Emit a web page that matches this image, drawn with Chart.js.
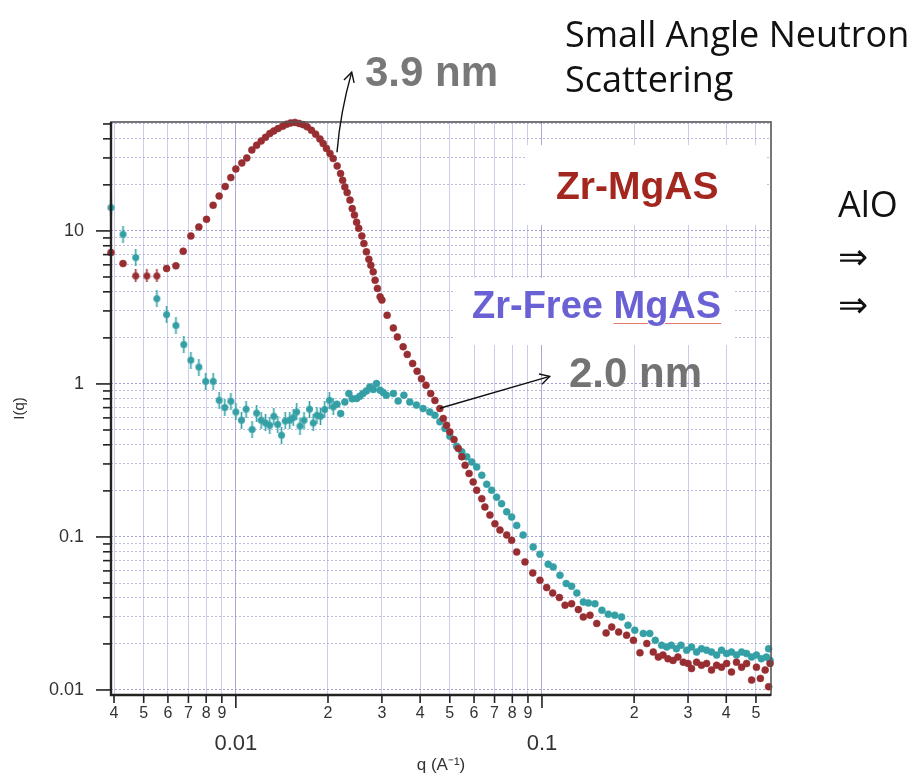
<!DOCTYPE html>
<html>
<head>
<meta charset="utf-8">
<script src="https://cdn.jsdelivr.net/npm/chart.js@4.4.1/dist/chart.umd.min.js"></script>
<style>
  html, body { margin: 0; padding: 0; background: #fff; }
  #wrap { position: relative; width: 910px; height: 780px; overflow: hidden; }
  #sans { position: absolute; left: 0; top: 0; }
  .slide { position: absolute; font-family: 'Open Sans', Lato, sans-serif; font-size: 36px; line-height: 1; color: #111; white-space: nowrap; }
  .tag { position: absolute; font-family: 'Liberation Sans', Arial, sans-serif; font-weight: bold; line-height: 1; white-space: nowrap; }
</style>
</head>
<body>
<div id="wrap">
  <canvas id="sans" width="910" height="780"></canvas>
  <div class="slide" style="left:565px; top:16px;">Small Angle Neutron</div>
  <div class="slide" style="left:565px; top:61px;">Scattering</div>
  <div class="slide" style="left:838px; top:186px;">AlO</div>
  <div class="slide" style="left:838px; top:238px;">⇒</div>
  <div class="slide" style="left:838px; top:286px;">⇒</div>
  <div class="tag" style="left:365px; top:51px; font-size:42px; color:#787878;">3.9 nm</div>
  <div class="tag" style="left:569px; top:352px; font-size:42px; color:#737373;">2.0 nm</div>
  <div class="tag" style="left:556px; top:166px; font-size:39px; color:#a3271f;">Zr-MgAS</div>
  <div class="tag" style="left:472px; top:286px; font-size:38px; color:#6a62d4;">Zr-Free <span style="text-decoration: underline; text-decoration-color: #e07a6a; text-decoration-thickness: 1px; text-underline-offset: 5px;">MgAS</span></div>
</div>
<script>
// Zr-MgAS (dark red)
const zrQ = [0.00391, 0.00428, 0.00471, 0.00512, 0.00552, 0.00594, 0.00637, 0.00673, 0.00713, 0.00757,
  0.00802, 0.00843, 0.00882, 0.00923, 0.00963, 0.0100, 0.01046, 0.01086, 0.01128, 0.01169,
  0.0121, 0.0125, 0.01291, 0.0133, 0.01374, 0.01422, 0.01465, 0.0151, 0.0156, 0.0161,
  0.0166, 0.0171, 0.01766, 0.01823, 0.01882, 0.01929, 0.01977, 0.0203, 0.0208, 0.02143,
  0.02198, 0.02233, 0.0227, 0.0231, 0.0236, 0.0240, 0.0244, 0.0248, 0.0252, 0.0258,
  0.0262, 0.0267, 0.0272, 0.0276, 0.0281, 0.0285, 0.0290, 0.0296, 0.0300, 0.0312,
  0.0327, 0.0337, 0.0352, 0.0363, 0.0378, 0.0391, 0.0404, 0.0418, 0.0433, 0.0447,
  0.0464, 0.0476, 0.0488, 0.0500, 0.0516, 0.0533, 0.0547, 0.0561, 0.0578, 0.0596,
  0.0612, 0.0636, 0.0651, 0.0676, 0.0702, 0.0729, 0.0767, 0.0796, 0.0827, 0.0880,
  0.0933, 0.0985, 0.1036, 0.1084, 0.114, 0.119, 0.125, 0.1315, 0.1365, 0.1435,
  0.151, 0.162, 0.169, 0.178, 0.189, 0.199, 0.209, 0.220, 0.231, 0.240,
  0.2485, 0.258, 0.268, 0.278, 0.2895, 0.300, 0.308, 0.320, 0.332, 0.345,
  0.358, 0.372, 0.386, 0.401, 0.416, 0.432, 0.449, 0.466, 0.484, 0.502,
  0.517, 0.536, 0.550, 0.556];
const zrI = [7.22, 6.12, 5.08, 5.08, 5.08, 5.68, 5.91, 7.37, 9.27, 10.6,
  11.9, 14.7, 16.9, 19.5, 22.3, 25.4, 27.8, 30.0, 33.8, 36.3,
  38.7, 40.9, 43.3, 45.0, 46.7, 48.3, 49.8, 50.8, 51.2, 50.4,
  49.5, 47.9, 45.5, 42.9, 39.9, 37.2, 34.6, 32.1, 29.7, 26.6,
  23.7, 21.4, 19.4, 17.8, 15.9, 14.0, 12.7, 11.4, 10.4, 9.27,
  8.27, 7.30, 6.53, 5.97, 5.40, 4.76, 4.21, 3.71, 3.53, 2.81,
  2.32, 2.03, 1.75, 1.56, 1.36, 1.21, 1.08, 0.98, 0.865, 0.78,
  0.69, 0.594, 0.537, 0.486, 0.433, 0.379, 0.334, 0.294, 0.260, 0.229,
  0.202, 0.178, 0.157, 0.139, 0.122, 0.111, 0.103, 0.0951, 0.0798, 0.0687,
  0.0582, 0.0521, 0.0467, 0.0430, 0.0402, 0.0358, 0.0366, 0.0335, 0.0300, 0.0308,
  0.0272, 0.0236, 0.0258, 0.0239, 0.0228, 0.0211, 0.0175, 0.0201, 0.0177, 0.0164,
  0.0169, 0.0160, 0.0156, 0.0164, 0.0152, 0.0149, 0.0138, 0.0152, 0.0145, 0.0149,
  0.0135, 0.0145, 0.0141, 0.0149, 0.0131, 0.0152, 0.0141, 0.0149, 0.0116, 0.0141,
  0.0119, 0.0135, 0.0105, 0.0149];

// Zr-Free MgAS (teal)
const freeQ = [0.00391, 0.00428, 0.00471, 0.00552, 0.00594, 0.00637, 0.00676, 0.00713, 0.00757, 0.00797,
  0.00843, 0.00882, 0.0092, 0.00963, 0.0100, 0.01043, 0.0108, 0.0113, 0.01169, 0.0121,
  0.0125, 0.0129, 0.0133, 0.0137, 0.0141, 0.0145, 0.0150, 0.0154, 0.0158, 0.0162,
  0.0167, 0.0174, 0.0179, 0.0184, 0.0189, 0.0195, 0.0202, 0.0208, 0.0214, 0.0220,
  0.0227, 0.0234, 0.0240, 0.0248, 0.0254, 0.0260, 0.0267, 0.0274, 0.0281, 0.0288,
  0.0296, 0.0303, 0.0310, 0.0327, 0.0339, 0.0354, 0.0370, 0.0389, 0.0409, 0.0430,
  0.0447, 0.0464, 0.0482, 0.0500, 0.0526, 0.0547, 0.0568, 0.0590, 0.0612, 0.0636,
  0.0660, 0.0685, 0.0711, 0.0738, 0.0767, 0.0796, 0.0827, 0.0868, 0.0936, 0.0985,
  0.1048, 0.1088, 0.1145, 0.120, 0.125, 0.130, 0.1365, 0.1418, 0.149, 0.157,
  0.1647, 0.173, 0.182, 0.191, 0.201, 0.2143, 0.225, 0.2345, 0.246, 0.2555,
  0.2645, 0.275, 0.2845, 0.297, 0.308, 0.320, 0.332, 0.345, 0.358, 0.372,
  0.386, 0.401, 0.416, 0.432, 0.449, 0.466, 0.484, 0.502, 0.521, 0.541,
  0.550, 0.556];
const freeI = [14.2, 9.51, 6.70, 3.61, 2.84, 2.41, 1.81, 1.43, 1.29, 1.04,
  1.04, 0.782, 0.701, 0.770, 0.656, 0.579, 0.684, 0.504, 0.645, 0.579,
  0.556, 0.537, 0.615, 0.544, 0.462, 0.573, 0.579, 0.602, 0.656, 0.530,
  0.579, 0.684, 0.556, 0.624, 0.615, 0.681, 0.782, 0.708, 0.737, 0.640,
  0.762, 0.865, 0.80, 0.803, 0.83, 0.865, 0.90, 0.955, 0.92, 1.006,
  0.910, 0.88, 0.844, 0.865, 0.774, 0.844, 0.762, 0.727, 0.69, 0.656,
  0.624, 0.565, 0.512, 0.455, 0.392, 0.360, 0.334, 0.309, 0.287, 0.253,
  0.221, 0.202, 0.182, 0.165, 0.146, 0.135, 0.119, 0.103, 0.0861, 0.0771,
  0.0664, 0.0637, 0.0562, 0.0496, 0.0476, 0.0430, 0.0376, 0.0370, 0.0366, 0.0332,
  0.0313, 0.0308, 0.0300, 0.0265, 0.0246, 0.0234, 0.0234, 0.0211, 0.0196, 0.0191,
  0.0196, 0.0186, 0.0196, 0.0182, 0.0191, 0.0177, 0.0186, 0.0182, 0.0177, 0.0169,
  0.0182, 0.0173, 0.0177, 0.0169, 0.0177, 0.0173, 0.0164, 0.0169, 0.0160, 0.0164,
  0.0186, 0.0156];

// axis ticks and labels
const xTicks = [0.004, 0.005, 0.006, 0.007, 0.008, 0.009, 0.01, 0.02, 0.03, 0.04, 0.05, 0.06, 0.07, 0.08, 0.09,
  0.1, 0.2, 0.3, 0.4, 0.5];
const xTickLabels = ['4', '5', '6', '7', '8', '9', '0.01', '2', '3', '4', '5', '6', '7', '8', '9',
  '0.1', '2', '3', '4', '5'];
const xMajor = [0.01, 0.1];
const yTicks = [0.01, 0.02, 0.03, 0.04, 0.05, 0.06, 0.07, 0.08, 0.09,
  0.1, 0.2, 0.3, 0.4, 0.5, 0.6, 0.7, 0.8, 0.9,
  1, 2, 3, 4, 5, 6, 7, 8, 9,
  10, 20, 30, 40, 50];
const yMajor = [0.01, 0.1, 1, 10];
const yMajorLabels = ['0.01', '0.1', '1', '10'];

const RED = 'rgb(152, 46, 50)';
const TEAL = 'rgb(52, 160, 166)';
const AXIS_FONT = "'Liberation Sans Narrow', 'Liberation Sans', sans-serif";

// point with a small vertical error bar, used at low q
function errPoint(color, h) {
  const c = document.createElement('canvas');
  c.width = 9; c.height = h;
  const g = c.getContext('2d');
  g.strokeStyle = color; g.lineWidth = 1.6;
  g.beginPath(); g.moveTo(4.5, 0); g.lineTo(4.5, h); g.stroke();
  g.fillStyle = color;
  g.beginPath(); g.arc(4.5, h / 2, 3.5, 0, Math.PI * 2); g.fill();
  return c;
}
const tealErr = errPoint(TEAL, 17);
const redErr = errPoint(RED, 13);

function toPoints(q, v) {
  return q.map((x, i) => ({x: x, y: v[i]}));
}

const ySig = (v) => yMajor.some(m => Math.abs(m - v) / m < 1e-6);

const framePlugin = {
  id: 'frame',
  beforeDatasetsDraw(chart) {
    const ctx = chart.ctx;
    ctx.save();
    ctx.fillStyle = '#fff';
    ctx.fillRect(527, 145, 238, 80);   // box behind Zr-MgAS
    ctx.fillRect(455, 278, 280, 67);   // box behind Zr-Free MgAS
    ctx.restore();
  },
  afterDraw(chart) {
    const ctx = chart.ctx;
    const a = chart.chartArea;
    const xs = chart.scales.x, ys = chart.scales.y;
    ctx.save();
    // frame
    ctx.strokeStyle = '#555';
    ctx.lineWidth = 1.6;
    ctx.strokeRect(a.left, a.top, a.right - a.left, a.bottom - a.top);
    ctx.strokeStyle = '#222';
    ctx.lineWidth = 2.4;
    ctx.beginPath();
    ctx.moveTo(a.left, a.top); ctx.lineTo(a.left, a.bottom); ctx.lineTo(a.right, a.bottom);
    ctx.stroke();
    // tick marks
    ctx.lineWidth = 1.6;
    xTicks.forEach(v => {
      const px = xs.getPixelForValue(v);
      const len = xMajor.includes(v) ? 13 : 8;
      ctx.beginPath(); ctx.moveTo(px, a.bottom); ctx.lineTo(px, a.bottom + len); ctx.stroke();
    });
    yTicks.forEach(v => {
      const py = ys.getPixelForValue(v);
      const len = ySig(v) ? 15 : 8;
      ctx.beginPath(); ctx.moveTo(a.left, py); ctx.lineTo(a.left - len, py); ctx.stroke();
    });
    // arrows to the peaks
    ctx.strokeStyle = '#111';
    ctx.lineWidth = 1.4;
    const arrow = (q1, i1, q2, i2, bend) => {
      const x1 = xs.getPixelForValue(q1), y1 = ys.getPixelForValue(i1);
      const x2 = xs.getPixelForValue(q2), y2 = ys.getPixelForValue(i2);
      const mx = (x1 + x2) / 2 + bend, my = (y1 + y2) / 2;
      ctx.beginPath(); ctx.moveTo(x1, y1); ctx.quadraticCurveTo(mx, my, x2, y2); ctx.stroke();
      const ang = Math.atan2(y2 - my, x2 - mx), h = 11;
      ctx.beginPath();
      ctx.moveTo(x2 - h * Math.cos(ang - 0.5), y2 - h * Math.sin(ang - 0.5));
      ctx.lineTo(x2, y2);
      ctx.lineTo(x2 - h * Math.cos(ang + 0.5), y2 - h * Math.sin(ang + 0.5));
      ctx.stroke();
    };
    arrow(0.0214, 32.7, 0.0239, 109, -4);
    arrow(0.0464, 0.694, 0.106, 1.12, 0);
    ctx.restore();
  }
};

new Chart(document.getElementById('sans'), {
  type: 'scatter',
  data: {
    datasets: [
      {
        label: 'Zr-MgAS',
        data: toPoints(zrQ, zrI),
        backgroundColor: RED,
        borderColor: 'rgba(152, 46, 50, 0.55)',
        borderWidth: 1,
        pointRadius: 3.5,
        pointStyle: (c) => (c.raw && c.raw.x > 0.0045 && c.raw.x < 0.0056) ? redErr : 'circle',
        clip: false
      },
      {
        label: 'Zr-Free MgAS',
        data: toPoints(freeQ, freeI),
        backgroundColor: TEAL,
        borderColor: 'rgba(52, 160, 166, 0.55)',
        borderWidth: 1,
        pointRadius: 3.5,
        pointStyle: (c) => (c.raw && c.raw.x < 0.021) ? tealErr : 'circle',
        clip: false
      }
    ]
  },
  options: {
    responsive: false,
    animation: false,
    events: [],
    layout: {
      padding: {top: 122, right: 139, left: 0, bottom: 0}
    },
    plugins: {
      legend: {display: false},
      tooltip: {enabled: false}
    },
    scales: {
      x: {
        type: 'logarithmic',
        min: 0.00391,
        max: 0.56,
        afterBuildTicks: (s) => { s.ticks = xTicks.map(v => ({value: v, major: xMajor.includes(v)})); },
        afterFit: (s) => { s.height = 85; },
        grid: {
          color: (c) => (c.tick && xMajor.includes(c.tick.value)) ? 'rgba(160, 160, 215, 0.9)' : 'rgba(185, 185, 228, 0.75)',
          lineWidth: 1,
          drawTicks: false
        },
        border: {display: false},
        ticks: {
          autoSkip: false,
          maxRotation: 0,
          padding: 9,
          color: '#333',
          font: (c) => ({
            family: AXIS_FONT,
            size: (c.tick && xMajor.includes(c.tick.value)) ? 22 : 16
          }),
          callback: (v, i) => xMajor.includes(xTicks[i]) ? ['', xTickLabels[i]] : xTickLabels[i]
        },
        title: {
          display: true,
          text: 'q (A⁻¹)',
          color: '#333',
          font: {family: AXIS_FONT, size: 17},
          padding: {top: 0, bottom: 4}
        }
      },
      y: {
        type: 'logarithmic',
        min: 0.00927,
        max: 51.5,
        afterBuildTicks: (s) => { s.ticks = yTicks.map(v => ({value: v, major: ySig(v)})); },
        afterFit: (s) => { s.width = 111; },
        grid: {
          color: (c) => (c.tick && ySig(c.tick.value)) ? 'rgba(150, 150, 210, 0.9)' : 'rgba(160, 160, 215, 0.7)',
          lineWidth: 1,
          drawTicks: false
        },
        border: {display: false, dash: [2, 2]},
        ticks: {
          autoSkip: false,
          padding: 27,
          color: '#333',
          font: {family: AXIS_FONT, size: 18},
          callback: (v, i) => {
            const k = yMajor.findIndex(m => Math.abs(m - yTicks[i]) / m < 1e-6);
            return k >= 0 ? yMajorLabels[k] : '';
          }
        },
        title: {
          display: true,
          text: 'I(q)',
          color: '#333',
          font: {family: AXIS_FONT, size: 15},
          padding: {top: 11, bottom: 0}
        }
      }
    }
  },
  plugins: [framePlugin]
});
</script>
</body>
</html>
